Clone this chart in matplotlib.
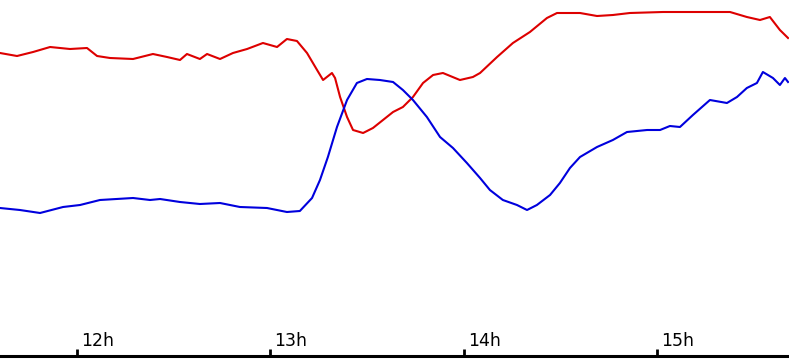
import numpy as np
import matplotlib
matplotlib.use("Agg")
import matplotlib.pyplot as plt
import matplotlib.transforms as mtransforms

# time axis in hours, level in arbitrary units (0 at the axis line)
red_t = [11.602, 11.690, 11.773, 11.861, 11.964, 12.052, 12.104, 12.171, 12.290, 12.393,
         12.466, 12.533, 12.569, 12.636, 12.673, 12.740, 12.807, 12.880, 12.962, 13.035,
         13.086, 13.138, 13.190, 13.242, 13.273, 13.319, 13.335, 13.361, 13.397, 13.428,
         13.480, 13.531, 13.583, 13.635, 13.686, 13.738, 13.790, 13.842, 13.893, 13.981,
         14.048, 14.085, 14.173, 14.255, 14.343, 14.431, 14.483, 14.602, 14.690, 14.772,
         14.860, 15.031, 15.378, 15.465, 15.533, 15.584, 15.636, 15.678]
red_v = [303, 300, 304, 309, 307, 308, 300, 298, 297, 302,
         299, 296, 302, 297, 302, 297, 303, 307, 313, 309,
         317, 315, 303, 286, 276, 283, 278, 259, 239, 226,
         223, 228, 236, 244, 249, 259, 273, 281, 283, 276,
         279, 283, 299, 313, 324, 338, 343, 343, 340, 341,
         343, 344, 344, 339, 336, 339, 326, 318]

blue_t = [11.602, 11.705, 11.809, 11.928, 12.016, 12.119, 12.290, 12.378, 12.430, 12.533,
          12.636, 12.740, 12.843, 12.983, 13.086, 13.153, 13.216, 13.257, 13.298, 13.345,
          13.397, 13.448, 13.500, 13.567, 13.635, 13.686, 13.738, 13.810, 13.878, 13.945,
          14.017, 14.085, 14.136, 14.203, 14.276, 14.328, 14.379, 14.447, 14.498, 14.550,
          14.602, 14.690, 14.772, 14.845, 14.949, 15.016, 15.067, 15.119, 15.186, 15.274,
          15.362, 15.414, 15.465, 15.517, 15.548, 15.600, 15.636, 15.662, 15.678]
blue_v = [148, 146, 143, 149, 151, 156, 158, 156, 157, 154,
          152, 153, 149, 148, 144, 145, 158, 176, 199, 229,
          256, 273, 277, 276, 274, 266, 256, 239, 219, 208,
          193, 178, 166, 156, 151, 146, 151, 161, 173, 188,
          199, 209, 216, 224, 226, 226, 230, 229, 241, 256,
          253, 259, 268, 273, 284, 278, 271, 278, 274]

hours = [12, 13, 14, 15]
hour_labels = ["12h", "13h", "14h", "15h"]

fig = plt.figure(figsize=(7.89, 3.6), dpi=100)
ax = fig.add_axes([0, 4 / 360, 1, 356 / 360])
ax.plot(red_t, red_v, color="#dd0000", lw=1.5)
ax.plot(blue_t, blue_v, color="#0000dd", lw=1.5)
ax.set_xlim(11.602, 15.683)
ax.set_ylim(0, 356)

for s in ["top", "left", "right"]:
    ax.spines[s].set_visible(False)
ax.spines["bottom"].set_linewidth(2.2)
ax.set_yticks([])
ax.set_xticks(hours, hour_labels)
ax.tick_params(axis="x", direction="in", length=5, width=2, pad=-4.4, labelsize=12.5)
off = mtransforms.ScaledTranslation(3 / 72, 0, fig.dpi_scale_trans)
for lab in ax.get_xticklabels():
    lab.set_ha("left")
    lab.set_va("bottom")
    lab.set_transform(lab.get_transform() + off)

fig.savefig("out.png", dpi=100)
